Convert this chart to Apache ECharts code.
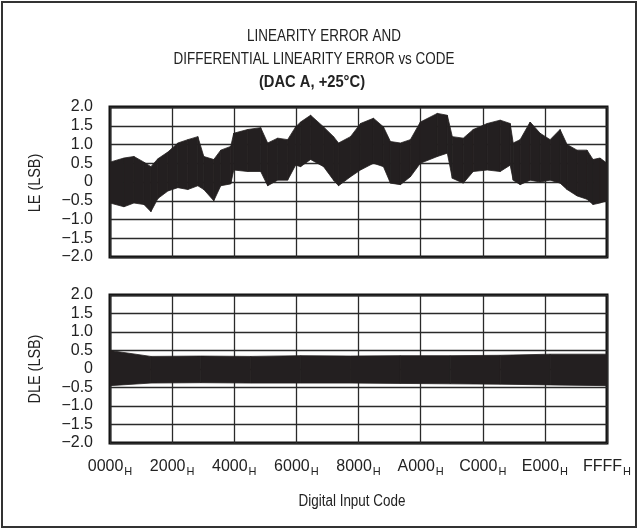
<!DOCTYPE html>
<html>
<head>
<meta charset="utf-8">
<script src="https://cdn.jsdelivr.net/npm/echarts@6/dist/echarts.min.js"></script>
<style>
  html, body { margin: 0; padding: 0; background: #fff; }
  #chart { width: 639px; height: 529px; }
</style>
</head>
<body>
<div id="chart"></div>
<script>
  // tick labels
  var xTickLabels = ['0000', '2000', '4000', '6000', '8000', 'A000', 'C000', 'E000', 'FFFF'];
  var yTickLabels = ['\u22122.0', '\u22121.5', '\u22121.0', '\u22120.5', '0', '0.5', '1.0', '1.5', '2.0'];

  // LE (LSB): envelope of the noisy trace
  var leCode = [0, 1842, 3158, 4474, 5396, 6317, 7633, 8949, 10265, 11581, 12370, 13686, 14607, 15923,
    16318, 18160, 19871, 20792, 22108, 23424, 24477, 25135, 26451, 28162, 29478, 30136, 31715, 33031,
    34742, 36058, 36979, 38295, 39611, 40927, 43164, 44480, 45138, 46586, 47901, 49744, 51454, 52770,
    53165, 54086, 55402, 56718, 58034, 59350, 60271, 61587, 62903, 63692, 64613, 65535];
  var leHigh = [0.53, 0.64, 0.68, 0.53, 0.41, 0.62, 0.80, 1.04, 1.13, 1.21, 0.68, 0.60, 0.85, 0.95,
    1.30, 1.40, 1.45, 1.04, 1.17, 1.13, 1.47, 1.60, 1.78, 1.47, 1.21, 1.04, 1.21, 1.56,
    1.70, 1.47, 1.08, 1.04, 1.13, 1.60, 1.83, 1.78, 1.21, 1.17, 1.40, 1.56, 1.65, 1.56,
    1.04, 1.13, 1.60, 1.30, 1.13, 1.40, 1.00, 0.85, 0.85, 0.60, 0.64, 0.50];
  var leLow = [-0.56, -0.66, -0.56, -0.60, -0.79, -0.44, -0.24, -0.15, -0.20, -0.10, -0.20, -0.50, -0.10, -0.05,
    0.32, 0.28, 0.28, -0.10, 0.05, 0.05, 0.45, 0.41, 0.60, 0.41, 0.05, -0.10, 0.14, 0.32,
    0.50, 0.41, -0.03, -0.07, 0.14, 0.50, 0.68, 0.77, 0.10, -0.03, 0.28, 0.32, 0.28, 0.45,
    0.05, -0.07, 0.05, 0.00, 0.05, -0.03, -0.20, -0.37, -0.46, -0.60, -0.56, -0.50];

  // DLE (LSB): envelope of the noisy trace
  var dleCode = [0, 5396, 11976, 18555, 25135, 31715, 38295, 44874, 51454, 58034, 65535];
  var dleHigh = [0.50, 0.34, 0.35, 0.34, 0.36, 0.35, 0.36, 0.36, 0.37, 0.40, 0.40];
  var dleLow = [-0.45, -0.38, -0.37, -0.38, -0.38, -0.38, -0.39, -0.40, -0.41, -0.43, -0.45];

  function segments(code, low, high) {
    var out = [];
    for (var i = 0; i < code.length - 1; i++) {
      out.push([code[i], low[i], high[i], code[i + 1], low[i + 1], high[i + 1]]);
    }
    return out;
  }

  function bandItem(params, api) {
    var a = api.coord([api.value(0), api.value(2)]);
    var b = api.coord([api.value(3), api.value(5)]);
    var c = api.coord([api.value(3), api.value(4)]);
    var d = api.coord([api.value(0), api.value(1)]);
    return {
      type: 'polygon',
      shape: { points: [a, b, c, d] },
      style: { fill: '#231f20', stroke: '#231f20', lineWidth: 0.8 }
    };
  }

  var font = '"Liberation Sans", Arial, sans-serif';
  var lineCol = '#2a2a2a';
  var narrow = 0.84; // the original labels are set in a condensed face

  // text drawn condensed (title and axis names); scaleX is along the text
  function label(text, x, y, opts) {
    opts = opts || {};
    return {
      type: 'text', silent: true, x: x, y: y,
      scaleX: opts.scale || narrow,
      rotation: opts.rotate ? Math.PI / 2 : 0,
      style: {
        text: text, fill: '#222',
        fontFamily: font, fontSize: 16, fontWeight: opts.bold ? 'bold' : 'normal',
        align: 'center', verticalAlign: 'middle',
        textAlign: 'center', textVerticalAlign: 'middle'
      }
    };
  }

  function xAxisOf(gridIndex, withLabels) {
    return {
      type: 'value', gridIndex: gridIndex,
      min: 0, max: 65536, interval: 8192,
      axisLine: { show: false }, axisTick: { show: false },
      splitLine: { show: true, lineStyle: { color: lineCol, width: 1.3 } },
      axisLabel: {
        show: withLabels, margin: 14,
        formatter: function (v) {
          return '{a|' + xTickLabels[Math.round(v / 8192)] + '}{h|H}';
        },
        rich: {
          a: { fontFamily: font, fontSize: 16, color: '#222' },
          h: { fontFamily: font, fontSize: 11, color: '#222', padding: [9, 0, 0, 1] }
        }
      }
    };
  }

  function yAxisOf(gridIndex) {
    return {
      type: 'value', gridIndex: gridIndex,
      min: -2, max: 2, interval: 0.5,
      axisLine: { show: false }, axisTick: { show: false },
      splitLine: { show: true, lineStyle: { color: lineCol, width: 1.3 } },
      axisLabel: {
        margin: 17, fontFamily: font, fontSize: 16, color: '#222', padding: [4, 0, 0, 0],
        formatter: function (v) { return yTickLabels[Math.round((v + 2) / 0.5)]; }
      }
    };
  }

  var chart = echarts.init(document.getElementById('chart'), null, { renderer: 'canvas' });

  var option = {
    backgroundColor: '#fff',
    animation: false,
    graphic: [
      {
        type: 'rect', silent: true,
        shape: { x: 2, y: 2, width: 634, height: 525 },
        style: { fill: 'none', stroke: '#333', lineWidth: 2 }
      },
      label('LINEARITY ERROR AND', 324, 37),
      label('DIFFERENTIAL LINEARITY ERROR vs CODE', 314, 60),
      label('(DAC A, +25\u00b0C)', 312, 83, { bold: true, scale: 0.92 }),
      label('Digital Input Code', 352, 502),
      label('LE (LSB)', 36, 183, { rotate: true, scale: 0.9 }),
      label('DLE (LSB)', 36, 369, { rotate: true, scale: 0.9 })
    ],
    grid: [
      { left: 110, right: 32, top: 107, height: 150, show: true, borderColor: '#111', borderWidth: 3 },
      { left: 110, right: 32, top: 295, height: 148, show: true, borderColor: '#111', borderWidth: 3 }
    ],
    xAxis: [xAxisOf(0, false), xAxisOf(1, true)],
    yAxis: [yAxisOf(0), yAxisOf(1)],
    series: [
      {
        type: 'custom', name: 'LE', xAxisIndex: 0, yAxisIndex: 0,
        renderItem: bandItem, clip: true,
        encode: { x: [0, 3], y: [1, 2, 4, 5] },
        data: segments(leCode, leLow, leHigh)
      },
      {
        type: 'custom', name: 'DLE', xAxisIndex: 1, yAxisIndex: 1,
        renderItem: bandItem, clip: true,
        encode: { x: [0, 3], y: [1, 2, 4, 5] },
        data: segments(dleCode, dleLow, dleHigh)
      }
    ]
  };

  chart.setOption(option);
</script>
</body>
</html>
